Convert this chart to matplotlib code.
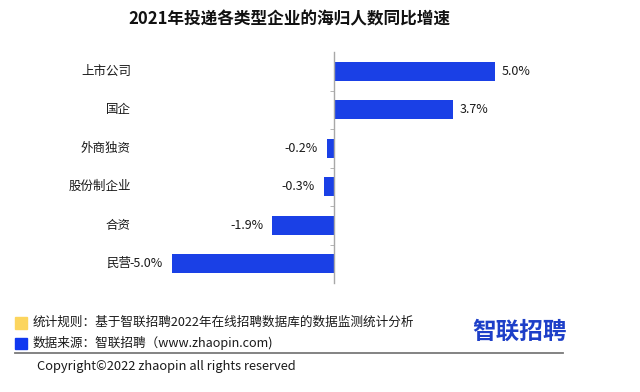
import matplotlib
matplotlib.use("Agg")
import matplotlib.pyplot as plt
from matplotlib.transforms import blended_transform_factory
from matplotlib.patches import Rectangle
from matplotlib.lines import Line2D

plt.rcParams['font.family'] = ['Noto Sans CJK SC', 'DejaVu Sans']

# ---------------------- data ----------------------
categories = ['上市公司', '国企', '外商独资', '股份制企业', '合资', '民营']
growth = [5.0, 3.7, -0.2, -0.3, -1.9, -5.0]
value_labels = ['5.0%', '3.7%', '-0.2%', '-0.3%', '-1.9%', '-5.0%']

title = '2021年投递各类型企业的海归人数同比增速'
note_rule = '统计规则：基于智联招聘2022年在线招聘数据库的数据监测统计分析'
note_source = '数据来源：智联招聘（www.zhaopin.com)'
copyright_text = 'Copyright©2022 zhaopin all rights reserved'
logo_text = '智联招聘'

bar_color = '#1a40e6'
yellow = '#fcd55e'
logo_blue = '#1d3fc8'

W, H = 640, 392
fig = plt.figure(figsize=(W / 100, H / 100), dpi=100)

# axes placed so that zero sits at x~333px, bars span rows 52-283px
ax = fig.add_axes([139.7 / W, 109 / H, 420 / W, 231 / H])
ypos = list(range(len(categories)))
ax.barh(ypos, growth, height=0.5, color=bar_color)
ax.set_xlim(-6, 7)
ax.set_ylim(len(categories) - 0.5, -0.5)

for s in ['top', 'right', 'bottom']:
    ax.spines[s].set_visible(False)
ax.spines['left'].set_position(('data', 0))
ax.spines['left'].set_color('#a8a8a8')
ax.spines['left'].set_linewidth(1)
ax.set_xticks([])
ax.set_yticks([])
ax.set_yticks([i + 0.5 for i in range(len(categories) - 1)], minor=True)
ax.tick_params(axis='y', which='minor', length=3, color='#a8a8a8',
               direction='out', labelleft=False)

# category labels sit at a fixed position at the left
trans = blended_transform_factory(fig.transFigure, ax.transData)
for y, name in zip(ypos, categories):
    ax.text(131 / W, y, name, transform=trans, ha='right', va='center',
            fontsize=9, color='#1a1a1a')

# value labels
for y, v, lab in zip(ypos, growth, value_labels):
    if v >= 0:
        ax.annotate(lab, (v, y), xytext=(5, 0), textcoords='offset points',
                    ha='left', va='center', fontsize=9, color='#1a1a1a')
    else:
        ax.annotate(lab, (v, y), xytext=(-6.5, 0), textcoords='offset points',
                    ha='right', va='center', fontsize=9, color='#1a1a1a')

# title
fig.text(289.5 / W, 1 - 19 / H, title, ha='center', va='center',
         fontsize=12, fontweight='bold', color='#111111')

# footer
fig.patches.append(Rectangle((15 / W, 1 - 329 / H), 12 / W, 12 / H,
                             transform=fig.transFigure, color=yellow))
fig.patches.append(Rectangle((15 / W, 1 - 349 / H), 12 / W, 11 / H,
                             transform=fig.transFigure, color='#1038f0'))
fig.text(33 / W, 1 - 322.5 / H, note_rule, ha='left', va='center',
         fontsize=9.1, color='#1a1a1a')
fig.text(33 / W, 1 - 343.5 / H, note_source, ha='left', va='center',
         fontsize=9.1, color='#1a1a1a')
fig.lines.append(Line2D([15 / W, 563 / W], [1 - 353 / H, 1 - 353 / H],
                        transform=fig.transFigure, color='#7a7a7a', lw=1.3))
fig.text(37 / W, 1 - 366.5 / H, copyright_text, ha='left', va='center',
         fontsize=9.3, color='#1a1a1a')
fig.text(520 / W, 1 - 332 / H, logo_text, ha='center', va='center',
         fontsize=17, fontweight='bold', color=logo_blue)

fig.savefig('out.png', dpi=100, facecolor='white')
